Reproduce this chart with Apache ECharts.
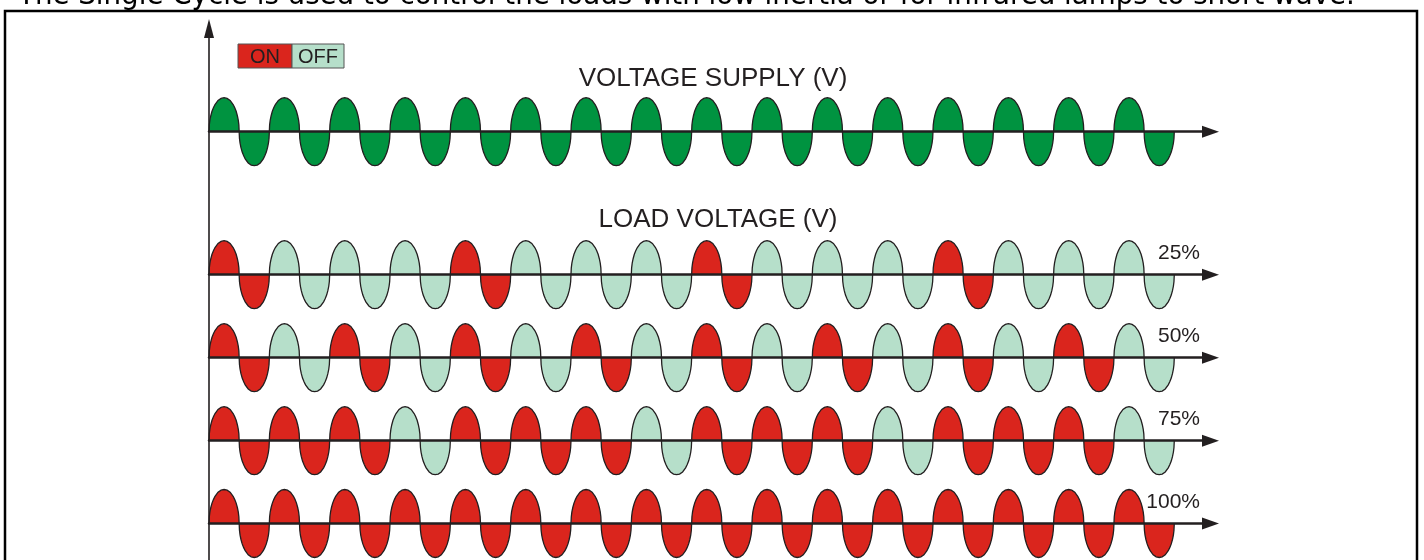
<!DOCTYPE html>
<html>
<head>
<meta charset="utf-8">
<script src="https://cdn.jsdelivr.net/npm/echarts@6/dist/echarts.min.js"></script>
<style>
html,body{margin:0;padding:0;background:#fff;}
#chart{width:1424px;height:560px;}
</style>
</head>
<body>
<div id="chart"></div>
<script>
// ---------------- data ----------------
const captionText = 'The Single Cycle is used to control the loads with low inertia or for infrared lamps to short wave.';
const supplyTitle = 'VOLTAGE SUPPLY (V)';
const loadTitle = 'LOAD VOLTAGE (V)';
const legendLabels = ['ON', 'OFF'];
const rowLabels = ['25%', '50%', '75%', '100%'];
const cycleCount = 16;
// 1 = cycle conducted (ON), 0 = cycle blocked (OFF)
const supplyPattern = [1,1,1,1,1,1,1,1,1,1,1,1,1,1,1,1];
const load25 = [1,0,0,0,1,0,0,0,1,0,0,0,1,0,0,0];
const load50 = [1,0,1,0,1,0,1,0,1,0,1,0,1,0,1,0];
const load75 = [1,1,1,0,1,1,1,0,1,1,1,0,1,1,1,0];
const load100 = [1,1,1,1,1,1,1,1,1,1,1,1,1,1,1,1];
// half-wave outline: position within half-cycle, relative height
const humpT = [0,0.01,0.03,0.06,0.1,0.15,0.2,0.3,0.4,0.5,0.6,0.7,0.8,0.85,0.9,0.94,0.97,0.99,1];
const humpH = [0,0.2,0.34,0.47,0.6,0.71,0.8,0.92,0.98,1,0.98,0.92,0.8,0.71,0.6,0.47,0.34,0.2,0];

// ---------------- style / layout ----------------
const GREEN = '#009340';
const RED = '#da251d';
const PALE = '#b6dfca';
const INK = '#231f20';
const axisLeft = 209;
const axisEnd = 1210.5;          // centre of arrow head
const pxPerCycle = 60.33;
const xMax = (axisEnd - axisLeft) / pxPerCycle;
const amp = 34;
const baselines = [131.7, 274.7, 357.7, 440.7, 523.5];
const patterns = [supplyPattern, load25, load50, load75, load100];

const grids = [], xAxes = [], yAxes = [], series = [];
baselines.forEach(function (b, i) {
  grids.push({left: axisLeft, top: b - amp, width: axisEnd - axisLeft, height: amp * 2});
  xAxes.push({
    type: 'value', gridIndex: i, min: 0, max: xMax, z: 5,
    axisLine: {show: true, onZero: true, symbol: ['none', 'triangle'], symbolSize: [12, 17],
      lineStyle: {color: INK, width: 2.5}},
    axisTick: {show: false}, axisLabel: {show: false}, splitLine: {show: false}
  });
  yAxes.push({type: 'value', gridIndex: i, min: -1, max: 1, show: false});
  const data = [];
  const pat = patterns[i];
  for (let c = 0; c < cycleCount; c++) {
    data.push([c, 0, pat[c]]);
    data.push([c, 1, pat[c]]);
  }
  const isSupply = i === 0;
  series.push({
    type: 'custom', xAxisIndex: i, yAxisIndex: i, z: 2, silent: true,
    data: data,
    renderItem: function (params, api) {
      const c = api.value(0), half = api.value(1), on = api.value(2);
      const sign = half === 0 ? 1 : -1;
      const x0 = c + half * 0.5;
      const pts = humpT.map(function (t, k) { return api.coord([x0 + t * 0.5, sign * humpH[k]]); });
      const fill = isSupply ? GREEN : (on ? RED : PALE);
      return {
        type: 'group',
        children: [
          {type: 'polygon', shape: {points: pts}, style: {fill: fill, stroke: null}},
          {type: 'polyline', shape: {points: pts}, style: {fill: null, stroke: INK, lineWidth: 1.3}}
        ]
      };
    }
  });
});
// vertical axis
grids.push({left: axisLeft, top: 28.5, width: 100, height: 700});
xAxes.push({type: 'value', gridIndex: 5, show: false, min: 0, max: 1});
yAxes.push({
  type: 'value', gridIndex: 5, min: 0, max: 1, z: 5,
  axisLine: {show: true, symbol: ['none', 'triangle'], symbolSize: [10, 19], lineStyle: {color: INK, width: 1.6}},
  axisTick: {show: false}, axisLabel: {show: false}, splitLine: {show: false}
});

const graphics = [
  {type: 'rect', shape: {x: 5, y: 11, width: 1412, height: 700}, style: {fill: null, stroke: '#000', lineWidth: 2.5}, z: 10},
  {type: 'text', x: 18, y: -3, style: {text: captionText, font: '27.7px "DejaVu Sans"', fill: '#000', verticalAlign: 'middle', align: 'left'}, z: 10},
  {type: 'rect', shape: {x: 238, y: 44, width: 54, height: 24}, style: {fill: RED, stroke: '#555', lineWidth: 1}, z: 10},
  {type: 'rect', shape: {x: 292, y: 44, width: 52, height: 24}, style: {fill: PALE, stroke: '#555', lineWidth: 1}, z: 10},
  {type: 'text', x: 265, y: 57.8, style: {text: legendLabels[0], font: '20px "Liberation Sans"', fill: INK, align: 'center', verticalAlign: 'middle'}, z: 11},
  {type: 'text', x: 318, y: 57.8, style: {text: legendLabels[1], font: '20px "Liberation Sans"', fill: INK, align: 'center', verticalAlign: 'middle'}, z: 11},
  {type: 'text', x: 713, y: 78.5, style: {text: supplyTitle, font: '26px "Liberation Sans"', fill: INK, align: 'center', verticalAlign: 'middle'}, z: 11},
  {type: 'text', x: 718, y: 219.5, style: {text: loadTitle, font: '26px "Liberation Sans"', fill: INK, align: 'center', verticalAlign: 'middle'}, z: 11}
];
rowLabels.forEach(function (lab, i) {
  graphics.push({type: 'text', x: 1200, y: baselines[i + 1] - 21,
    style: {text: lab, font: '21px "Liberation Sans"', fill: INK, align: 'right', verticalAlign: 'middle'}, z: 11});
});

const chart = echarts.init(document.getElementById('chart'), null, {renderer: 'canvas'});
chart.setOption({
  animation: false,
  backgroundColor: '#fff',
  grid: grids,
  xAxis: xAxes,
  yAxis: yAxes,
  series: series,
  graphic: graphics
});
</script>
</body>
</html>
